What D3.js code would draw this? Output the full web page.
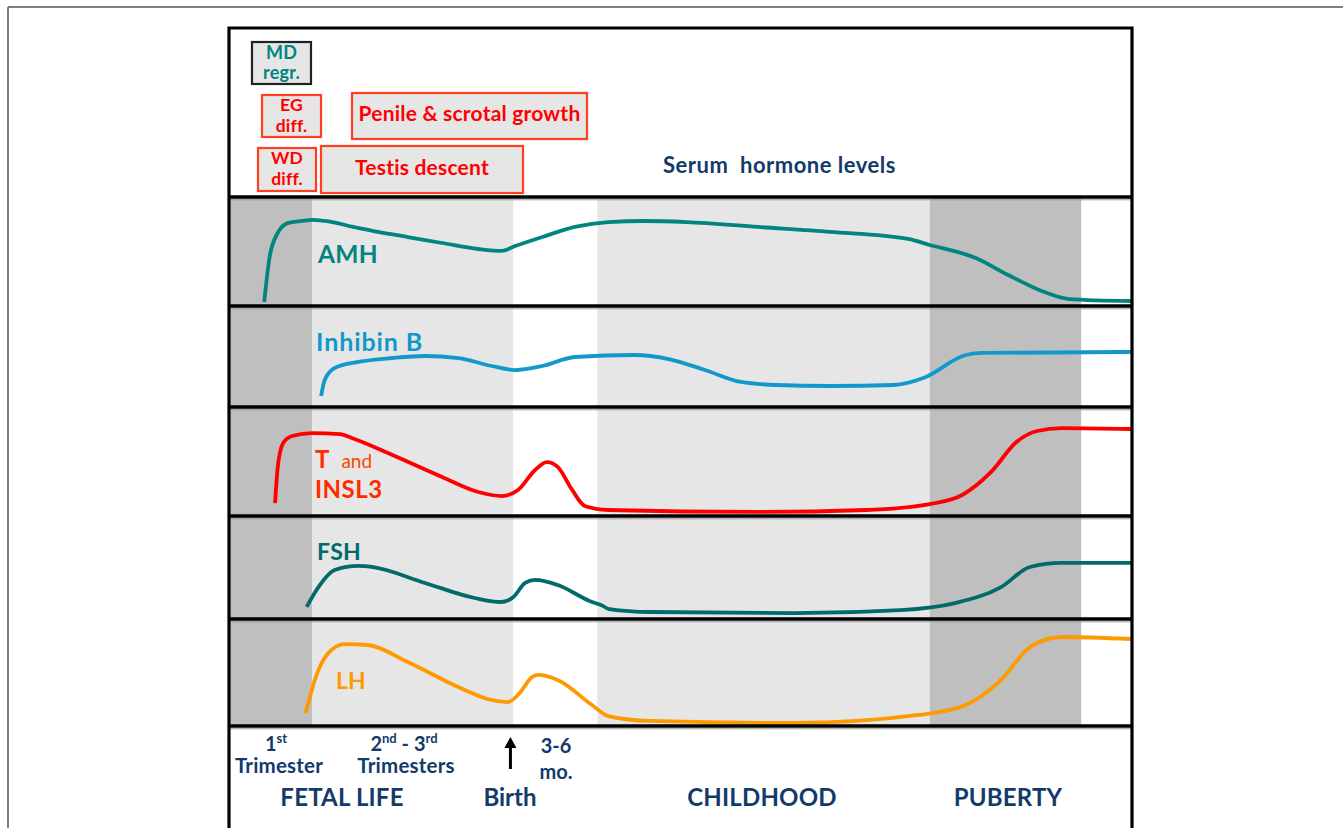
<!DOCTYPE html>
<html><head><meta charset="utf-8">
<script src="https://cdn.jsdelivr.net/npm/d3@7"></script>
<style>
html,body{margin:0;padding:0;background:#fff;}
svg text{font-family:Lato,"Open Sans",sans-serif;font-weight:bold;}
</style></head>
<body>
<svg id="chart" width="1343" height="828"></svg>
<script>
// ---- DATA (t = developmental time, 0-100 arbitrary units; v = relative serum level, 0-100 within its panel)
const hormones = ["AMH", "Inhibin B", "T and INSL3", "FSH", "LH"];
const amhT = [3.9,4.5,5.4,6.5,8.1,9.2,10.6,14.3,16.5,19.8,23.6,27.6,30.2,31.7,34.7,38.3,42.0,46.0,50.7,58.6,66.6,75.2,77.6,82.7,86.3,90.3,93.0,100];
const amhV = [3.7,45,67,76,78,79,78,71.6,68,63.3,57.8,52.3,50.5,55,63.3,72.5,77,78,77,72.5,68,61.5,56,44,28.4,12.8,6.4,4.6];
const inhT = [10.2,10.6,11.7,14.3,18.1,21.7,25.4,29.1,31.7,34.7,38.3,44.9,48.7,52.7,56.7,60.6,66.6,73.6,76.9,81.6,83.5,100];
const inhV = [10.9,26.7,38.6,44.6,48.5,50.5,48.5,40.6,36.6,40.6,49.5,51.5,47.5,36.6,24.8,21.8,20.8,21.8,28.7,51.5,53.5,54.5];
const tT = [5.1,5.4,6.0,7.0,9.2,12.3,13.6,18.1,23.6,27.6,30.2,32.0,33.9,35.2,36.4,38.0,39.4,42.0,58.6,70.5,77.6,81.2,84.4,87.2,89.5,92.2,100];
const tV = [11.9,45,67,73.4,76.1,75.2,71.6,56,35.8,22,18.3,23.9,42.2,49.5,45,23.9,9.2,5.5,3.7,5.5,11,19.3,40.4,67.9,78,80.7,79.8];
const fshT = [8.6,9.9,11.7,14.3,15.8,21.7,27.2,30.2,31.5,32.8,33.9,36.4,40.2,41.2,42.1,46.7,62.6,74.4,80.4,85.5,88.7,92.2,100];
const fshV = [11.7,31,47.6,51.5,50.5,35,20.4,16.5,21.4,35,37.9,33,16.5,13.6,9.7,6.8,5.8,8.7,15.5,31,50.5,54.4,54.4];
const lhT = [8.5,9.5,11.0,12.8,15.4,19.8,25.4,29.1,30.9,32.0,33.6,34.2,36.4,40.2,42.0,46.7,62.6,76.4,81.6,85.5,88.7,92.2,100];
const lhV = [12.1,43,68.2,76.6,75.7,59.8,36.4,24.3,22.4,29,45.8,47.7,43,19.6,9.3,4.7,2.8,10.3,19.6,43,73.8,83.2,81.3];
// developmental phases (shaded columns)
const phaseNames = ["1st trimester", "2nd-3rd trimesters", "3-6 mo.", "childhood", "puberty", "adult"];
const phaseStart = [0, 9.2, 31.5, 40.8, 77.6, 94.4];
const phaseEnd   = [9.2, 31.5, 40.8, 77.6, 94.4, 100];
const phaseShade = ["dark", "light", "none", "light", "dark", "none"];

// ---- STYLE / LAYOUT
const shadeFill = {dark:"#bfbfbf", light:"#e6e6e6", none:"#ffffff"};
const seriesColor = ["#00857f", "#1199cc", "#ff0000", "#006b69", "#ff9900"];
const navy = "#123a6a";
const X0 = 229, X1 = 1132;
const seps = [197, 306, 407, 516, 619, 726];

const svg = d3.select("#chart");
const x = d3.scaleLinear().domain([0, 100]).range([X0, X1]);

// page frame
svg.append("line").attr("x1",8).attr("x2",1343).attr("y1",7).attr("y2",7).attr("stroke","#555").attr("stroke-width",1.5);
svg.append("line").attr("x1",8).attr("x2",8).attr("y1",7).attr("y2",828).attr("stroke","#555").attr("stroke-width",1.5);

// shaded phase columns
svg.append("g").selectAll("rect").data(phaseStart).join("rect")
  .attr("x", (d,i)=>x(phaseStart[i])).attr("width",(d,i)=>x(phaseEnd[i])-x(phaseStart[i]))
  .attr("y", seps[0]).attr("height", seps[5]-seps[0])
  .attr("fill",(d,i)=>shadeFill[phaseShade[i]]);

// series
const series = [[amhT,amhV],[inhT,inhV],[tT,tV],[fshT,fshV],[lhT,lhV]];
series.forEach((s,i)=>{
  const y = d3.scaleLinear().domain([0,100]).range([seps[i+1], seps[i]]);
  const pts = s[0].map((t,k)=>[t, s[1][k]]);
  const line = d3.line().x(d=>x(d[0])).y(d=>y(d[1])).curve(d3.curveMonotoneX);
  svg.append("path").datum(pts).attr("d",line).attr("fill","none")
    .attr("stroke",seriesColor[i]).attr("stroke-width",3.8).attr("stroke-linecap","butt").attr("stroke-linejoin","round");
});

// separators (with thin grey shadow line)
svg.append("g").selectAll("line").data(seps).join("line")
  .attr("x1",X0).attr("x2",X1).attr("y1",d=>d+2.8).attr("y2",d=>d+2.8)
  .attr("stroke","#9a9a9a").attr("stroke-width",1);
svg.append("g").selectAll("line").data(seps).join("line")
  .attr("x1",X0).attr("x2",X1).attr("y1",d=>d).attr("y2",d=>d)
  .attr("stroke","#000").attr("stroke-width",3.5);
// frame
svg.append("path").attr("d",`M${X0},830 V28 H${X1} V830`).attr("fill","none").attr("stroke","#000").attr("stroke-width",3.2);

// series labels
const lab = svg.append("g");
lab.append("text").attr("x",318).attr("y",263).attr("fill",seriesColor[0]).attr("font-size",24.5).attr("letter-spacing",0.3).text("AMH");
lab.append("text").attr("x",316).attr("y",351).attr("fill",seriesColor[1]).attr("font-size",25).attr("letter-spacing",0.9).text("Inhibin B");
const tl = lab.append("text").attr("x",315).attr("y",468).attr("fill","#ff2a00");
tl.append("tspan").attr("font-size",24).text("T");
tl.append("tspan").attr("dx",12).attr("font-size",19).attr("font-weight","normal").attr("fill","#ff4500").text("and");
lab.append("text").attr("x",315).attr("y",498).attr("fill","#ff2a00").attr("font-size",24).attr("letter-spacing",0.5).text("INSL3");
lab.append("text").attr("x",317).attr("y",560).attr("fill",seriesColor[3]).attr("font-size",23).attr("letter-spacing",0.3).text("FSH");
lab.append("text").attr("x",336).attr("y",689).attr("fill",seriesColor[4]).attr("font-size",23).text("LH");

// top event boxes
const boxes = [
  {x:252,y:42,w:59,h:42,stroke:"#222",color:"#00857f",lines:["MD","regr."],fs:18,ly:[59,79]},
  {x:262,y:95,w:59,h:42,stroke:"#ff4020",color:"#ff0000",lines:["EG","diff."],fs:17.5,ly:[111,132]},
  {x:352,y:93,w:235,h:46,stroke:"#ff4020",color:"#ff0000",lines:["Penile & scrotal growth"],fs:21,ly:[121]},
  {x:258,y:148,w:58,h:43,stroke:"#ff4020",color:"#ff0000",lines:["WD","diff."],fs:17.5,ly:[164,185]},
  {x:321,y:146,w:202,h:47,stroke:"#ff4020",color:"#ff0000",lines:["Testis descent"],fs:21,ly:[175]}
];
boxes.forEach(b=>{
  svg.append("rect").attr("x",b.x).attr("y",b.y).attr("width",b.w).attr("height",b.h)
    .attr("fill","#e6e6e6").attr("stroke",b.stroke).attr("stroke-width",2.2);
  b.lines.forEach((l,k)=>svg.append("text").attr("x",b.x+b.w/2).attr("y",b.ly[k]).attr("text-anchor","middle")
    .attr("fill",b.color).attr("font-size",b.fs).attr("letter-spacing",0.2).text(l));
});
svg.append("text").attr("x",663).attr("y",173).attr("fill",navy).attr("font-size",22).attr("letter-spacing",0.5)
  .attr("xml:space","preserve").style("white-space","pre").text("Serum  hormone levels");

// bottom period labels
const bt = svg.append("g").attr("fill",navy);
let t1 = bt.append("text").attr("x",276).attr("y",751).attr("text-anchor","middle").attr("font-size",20);
t1.append("tspan").text("1"); t1.append("tspan").attr("font-size",13).attr("dy",-8).text("st");
bt.append("text").attr("x",279).attr("y",773).attr("text-anchor","middle").attr("font-size",20.5).attr("letter-spacing",0.2).text("Trimester");
let t2 = bt.append("text").attr("x",404).attr("y",751).attr("text-anchor","middle").attr("font-size",20);
t2.append("tspan").text("2"); t2.append("tspan").attr("font-size",13).attr("dy",-8).text("nd");
t2.append("tspan").attr("dy",8).text(" - 3"); t2.append("tspan").attr("font-size",13).attr("dy",-8).text("rd");
bt.append("text").attr("x",406).attr("y",773).attr("text-anchor","middle").attr("font-size",20.5).attr("letter-spacing",0.2).text("Trimesters");
bt.append("text").attr("x",556).attr("y",753).attr("text-anchor","middle").attr("font-size",20).text("3-6");
bt.append("text").attr("x",556).attr("y",779).attr("text-anchor","middle").attr("font-size",20).text("mo.");
bt.append("text").attr("x",342).attr("y",806).attr("text-anchor","middle").attr("font-size",24).attr("letter-spacing",0.2).text("FETAL LIFE");
bt.append("text").attr("x",510).attr("y",806).attr("text-anchor","middle").attr("font-size",24).text("Birth");
bt.append("text").attr("x",762).attr("y",806).attr("text-anchor","middle").attr("font-size",24).attr("letter-spacing",0.2).text("CHILDHOOD");
bt.append("text").attr("x",1008).attr("y",806).attr("text-anchor","middle").attr("font-size",24).attr("letter-spacing",0.2).text("PUBERTY");

// birth arrow
const ax = x(31.5)-3;
svg.append("line").attr("x1",ax).attr("x2",ax).attr("y1",769).attr("y2",746).attr("stroke","#000").attr("stroke-width",3);
svg.append("path").attr("d",`M${ax-6},748 L${ax},737 L${ax+6},748 Z`).attr("fill","#000");
</script>
</body></html>
